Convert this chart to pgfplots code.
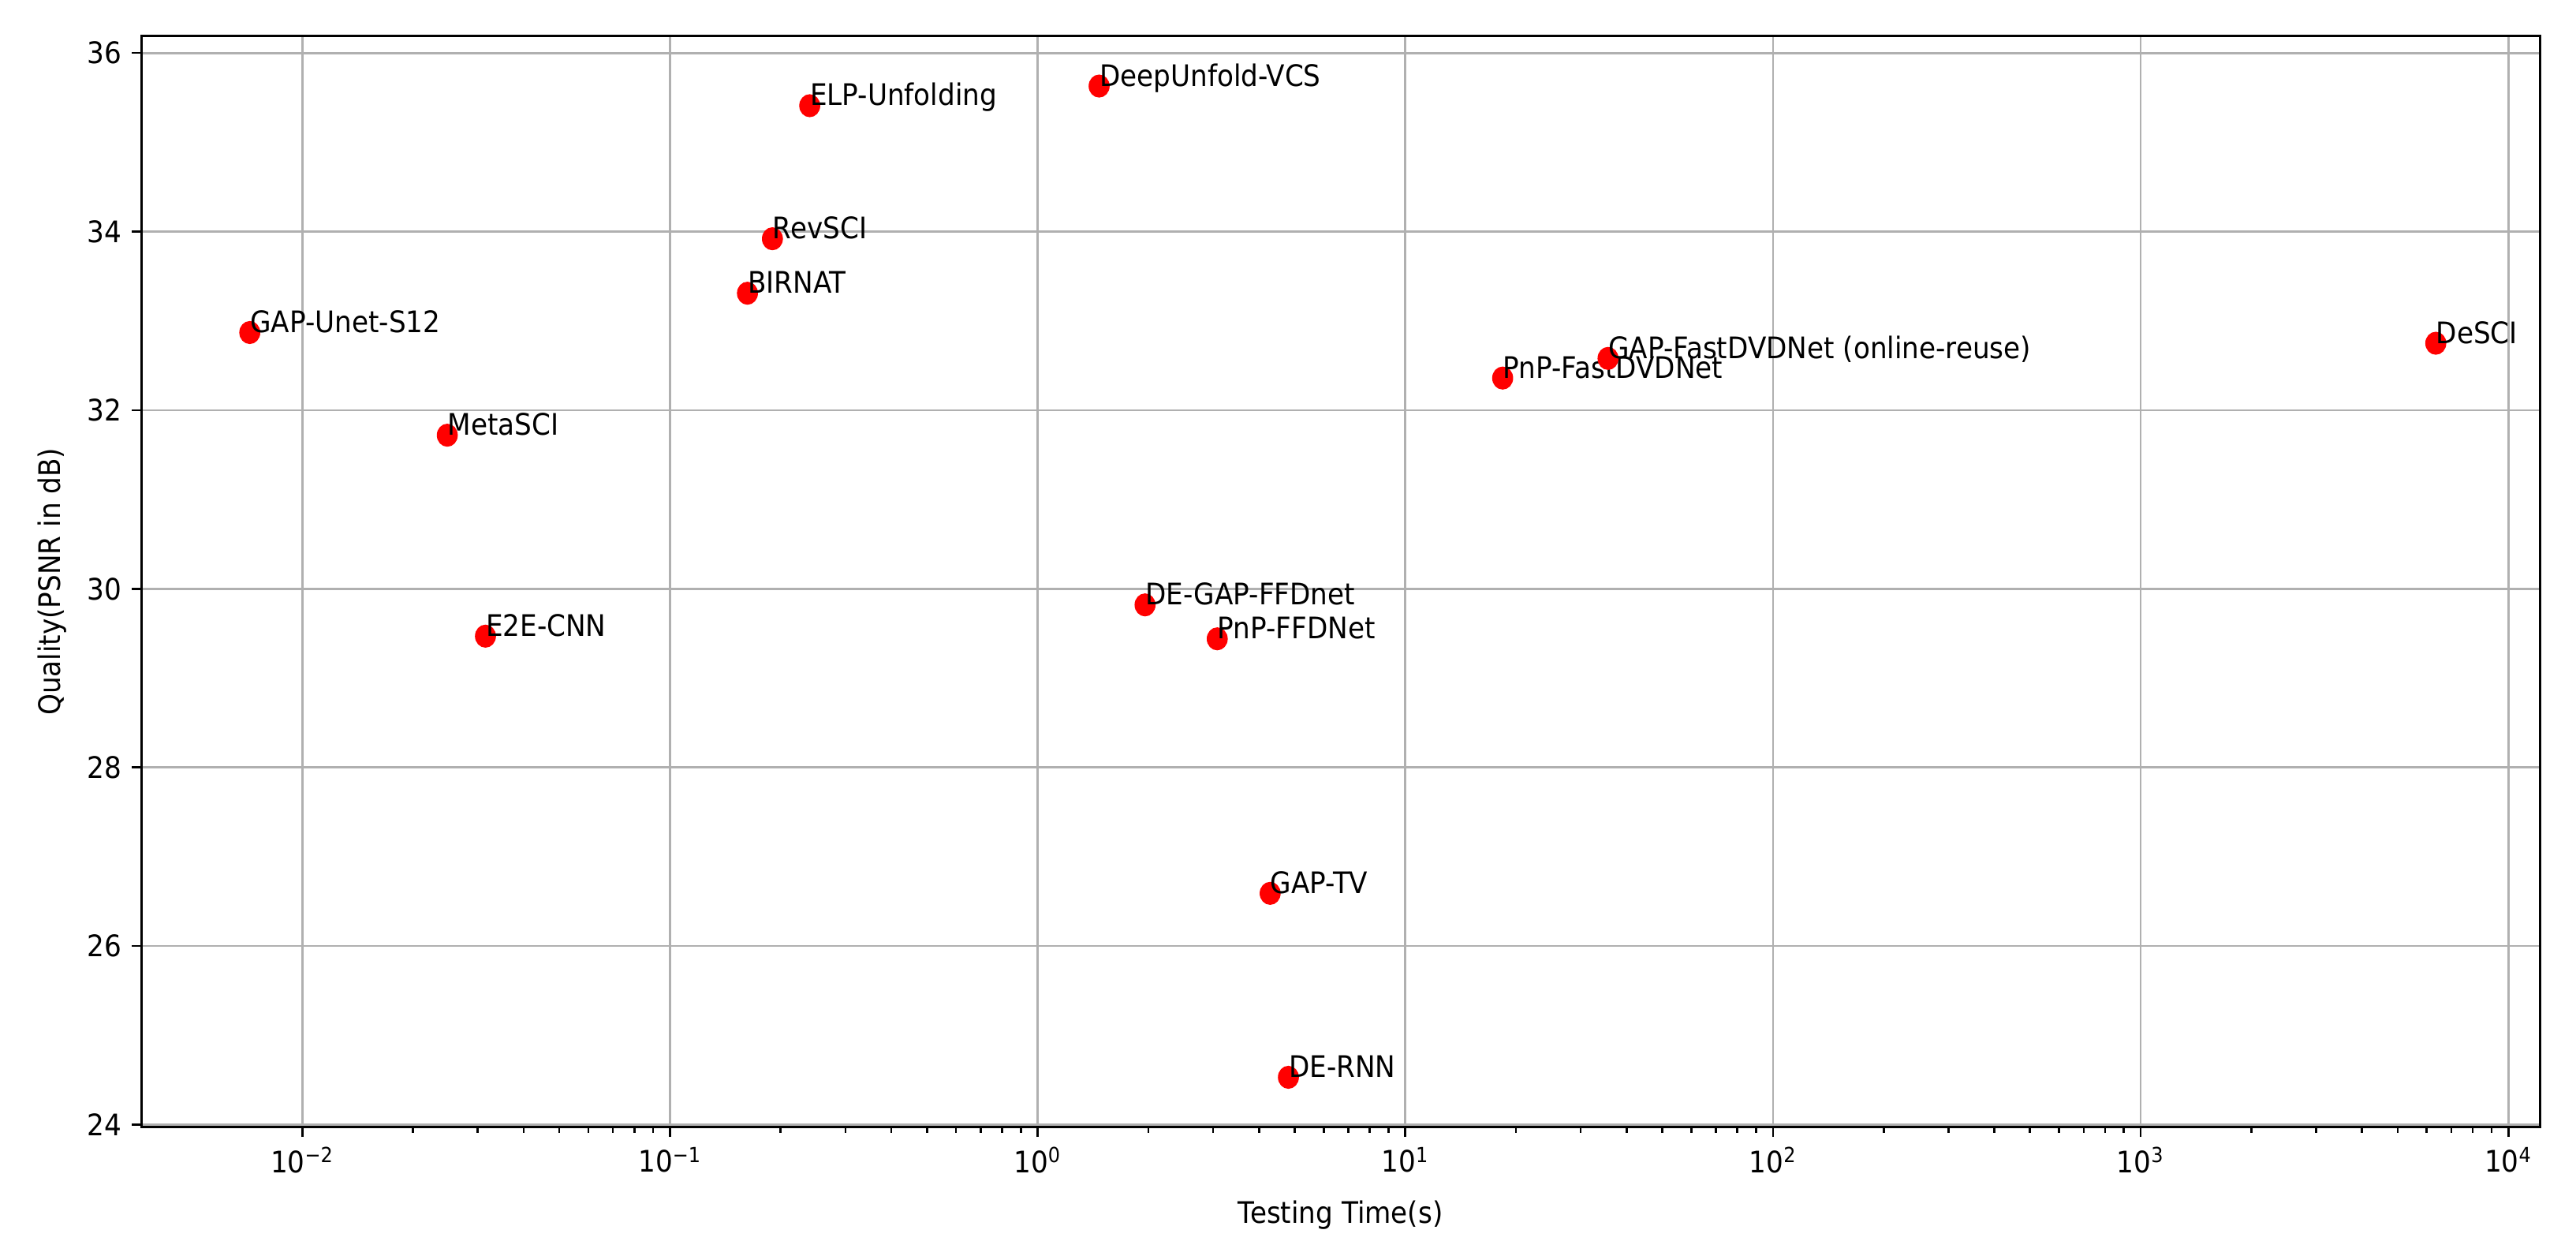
\documentclass[border=0pt]{standalone}
\usepackage{pgfplots}
\pgfplotsset{compat=1.18}
\usepackage{fontspec}
\setmainfont{DejaVu Sans}[FakeStretch=0.91]
\begin{document}
\fontsize{13}{15}\selectfont
\begin{tikzpicture}
\begin{axis}[
  scale only axis,
  width=1051.2pt, height=478.1pt,
  xmode=log,
  xmin=0.003648, xmax=12190,
  ymin=23.97, ymax=36.19,
  xtick={0.01,0.1,1,10,100,1000,10000},
  xticklabels={10\textsuperscript{−2},10\textsuperscript{−1},10\textsuperscript{0},10\textsuperscript{1},10\textsuperscript{2},10\textsuperscript{3},10\textsuperscript{4}},
  ytick={24,26,28,30,32,34,36},
  /pgf/number format/assume math mode=true,
  xtick pos=bottom, ytick pos=left,
  tick align=outside,
  major tick length=4.2pt, minor tick length=2.4pt,
  every tick/.style={black, line width=0.9pt},
  minor x tick num=8,
  grid=major,
  major grid style={color=black!31, line width=0.95pt},
  axis line style={black, line width=1pt},
  xlabel={Testing Time(s)},
  ylabel={Quality(PSNR in dB)},
  xlabel style={at={(axis description cs:0.5,-0.0665)}, anchor=north, inner sep=0pt},
  ylabel style={at={(axis description cs:-0.0308,0.5)}, anchor=south, inner sep=0pt},
  clip=false,
]
\addplot[only marks, mark=*, mark size=4.4pt, color=red,
  mark options={yscale=1.1},
  nodes near coords, point meta=explicit symbolic,
  nodes near coords style={anchor=base west, inner sep=0pt, text=black}]
  table[col sep=comma, row sep=\\, x=x, y=y, meta=label] {
x,y,label\\
0.0072,32.87,GAP-Unet-S12\\
0.0248,31.72,MetaSCI\\
0.0315,29.47,E2E-CNN\\
0.1625,33.31,BIRNAT\\
0.19,33.92,RevSCI\\
0.24,35.41,ELP-Unfolding\\
1.47,35.63,DeepUnfold-VCS\\
1.96,29.82,DE-GAP-FFDnet\\
3.08,29.44,PnP-FFDNet\\
4.29,26.59,GAP-TV\\
4.81,24.53,DE-RNN\\
18.4,32.36,PnP-FastDVDNet\\
35.6,32.58,GAP-FastDVDNet (online-reuse)\\
6350,32.75,DeSCI\\
};
\end{axis}
\pgfresetboundingbox
\path[use as bounding box] (-61.9pt,-56.2pt) rectangle (1067.0pt,493.9pt);
\end{tikzpicture}
\end{document}
